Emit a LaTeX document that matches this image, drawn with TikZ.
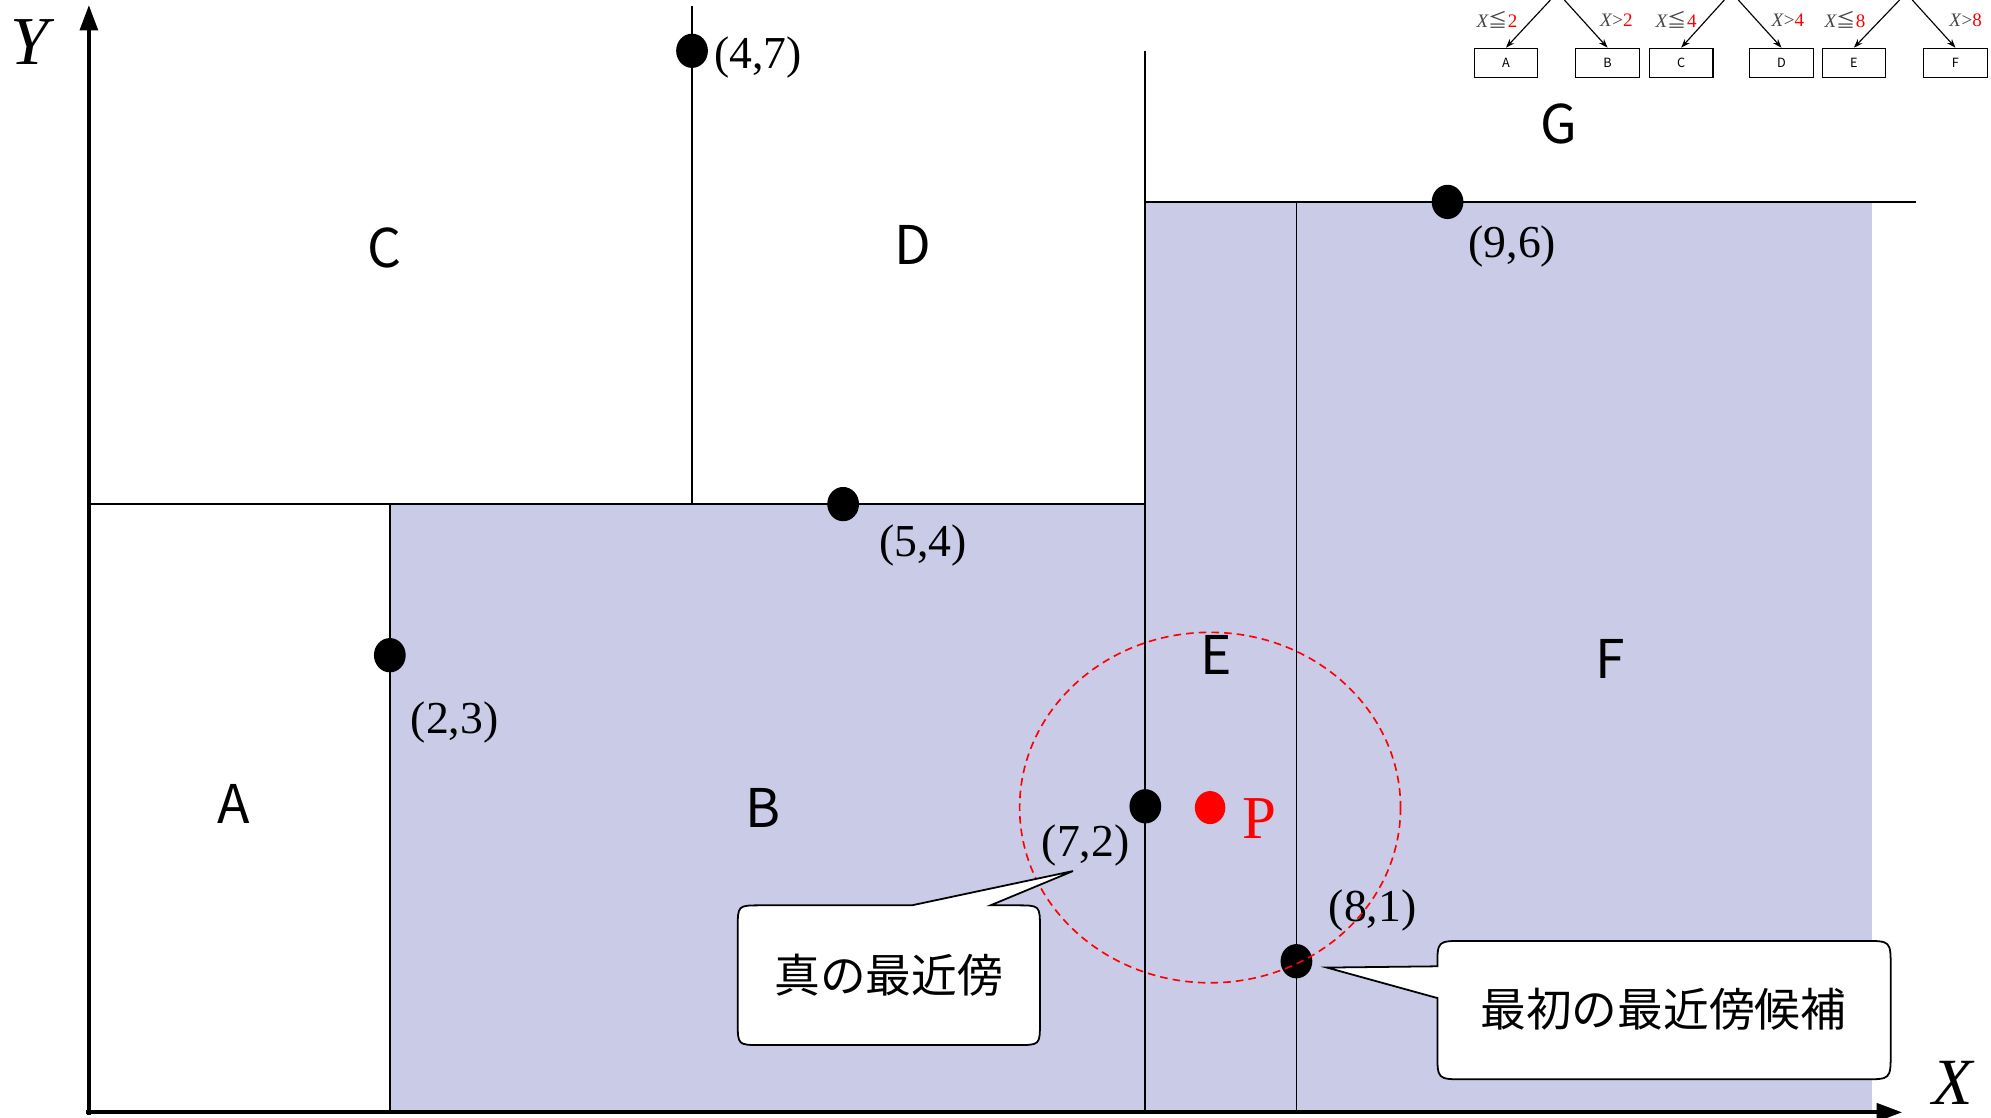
\documentclass[tikz,border=0pt]{standalone}
\usepackage{fontspec}
\setmainfont{Liberation Serif}
\newfontfamily\jp{Noto Sans CJK JP}
\usetikzlibrary{arrows.meta,shapes.geometric}
\definecolor{lav}{RGB}{201,203,231}
\definecolor{tgray}{RGB}{70,70,70}
\begin{document}
\begin{tikzpicture}[x=1pt,y=-1pt,
  axis/.style={line width=3pt,-{Triangle[length=20pt,width=14pt]}},
  part/.style={line width=1.4pt},
  dot/.style={ellipse,fill=black,inner sep=0pt,minimum width=25pt,minimum height=27pt},
  coordlbl/.style={font=\fontsize{36}{36}\selectfont,inner sep=0pt},
  region/.style={font=\jp\fontsize{42}{42}\selectfont,inner sep=0pt},
  callout/.style={draw=black,line width=1.4pt,fill=white},
  calltext/.style={font=\jp\fontsize{36}{36}\selectfont,inner sep=0pt},
  leaf/.style={draw=black,line width=0.9pt,minimum width=50pt,minimum height=23pt,inner sep=0pt,font=\jp\fontsize{10}{10}\selectfont},
  tarrow/.style={line width=0.9pt,-{Stealth[length=7pt,width=5pt]}},
  tlbl/.style={inner sep=0pt,font=\fontsize{15}{15}\selectfont}]
\useasboundingbox (0,0) rectangle (1568,880);
% shaded regions
\fill[lav] (307,397) rectangle (902,876);
\fill[lav] (902,159) rectangle (1474,876);
% partition lines
\draw[part,line width=1.8pt] (70,397) -- (902,397);
\draw[part] (307,397) -- (307,876);
\draw[part] (545,5) -- (545,397);
\draw[part] (902,40) -- (902,876);
\draw[part,line width=1.8pt] (902,159) -- (1509,159);
\draw[part] (1021,159) -- (1021,876);
% axes
\coordinate (o) at (70,876);
\coordinate (ytip) at (70,4);
\coordinate (xtip) at (1498,876);
\draw[axis] (70,878) -- (ytip);
\draw[axis] (68,876) -- (xtip);
\node[inner sep=0pt,font=\itshape\fontsize{54}{54}\selectfont] (ylab) at (23,33) {Y};
\node[inner sep=0pt,font=\itshape\fontsize{52}{52}\selectfont] (xlab) at (1538,853) {X};
% region labels
\node[region] (rA) at (184,633) {A};
\node[region] (rB) at (601,636) {B};
\node[region] (rC) at (303,195) {C};
\node[region] (rD) at (719,193) {D};
\node[region] (rE) at (958,516) {E};
\node[region] (rF) at (1268,519) {F};
\node[region] (rG) at (1228,98) {G};
% points
\node[dot] (p47) at (545,40) {};
\node[dot] (p54) at (664,397) {};
\node[dot] (p23) at (307,516) {};
\node[dot] (p96) at (1140,159) {};
\node[dot] (p72) at (902,635) {};
\node[dot] (p81) at (1021,757) {};
\node[ellipse,fill=red,inner sep=0pt,minimum width=24pt,minimum height=26pt] (pP) at (953,636) {};
\node[coordlbl] (l47) at (597,45) {(4,7)};
\node[coordlbl] (l54) at (727,430) {(5,4)};
\node[coordlbl] (l23) at (358,569) {(2,3)};
\node[coordlbl] (l96) at (1191,194) {(9,6)};
\node[coordlbl] (l72) at (855,666) {(7,2)};
\node[coordlbl] (l81) at (1081,717) {(8,1)};
\node[inner sep=0pt,text=red,font=\fontsize{48}{48}\selectfont] (lP) at (992,645) {P};
% search circle
\draw[red,line width=1.3pt,dash pattern=on 6pt off 4pt] (pP.center) ellipse [x radius=150, y radius=138];
% callout 1
\coordinate (c1tip) at (845,686);
\draw[callout] (718,713) -- (c1tip) -- (780,713) -- (801,713) .. controls (819,713) .. (819,731) -- (819,805) .. controls (819,823) .. (801,823) -- (599,823) .. controls (581,823) .. (581,805) -- (581,731) .. controls (581,713) .. (599,713) -- cycle;
\node[calltext] (t1) at (700,768) {真の最近傍};
% callout 2
\coordinate (c2tip) at (1045,762);
\draw[callout] (1132,761) -- (c2tip) -- (1132,786) -- (1132,829) .. controls (1132,850) .. (1153,850) -- (1468,850) .. controls (1489,850) .. (1489,829) -- (1489,762) .. controls (1489,741) .. (1468,741) -- (1153,741) .. controls (1132,741) .. (1132,761) -- cycle;
\node[calltext] (t2) at (1310,795) {最初の最近傍候補};
% tree fragment
\node[leaf] (tA) at (1186,49.5) {A};
\node[leaf] (tB) at (1266,49.5) {B};
\node[leaf] (tC) at (1324,49.5) {C};
\node[leaf] (tD) at (1403,49.5) {D};
\node[leaf] (tE) at (1460,49.5) {E};
\node[leaf] (tF) at (1540,49.5) {F};
\coordinate (sA) at (1221,0);
\coordinate (sB) at (1232,0);
\coordinate (sC) at (1358,0);
\coordinate (sD) at (1369,0);
\coordinate (sE) at (1496,0);
\coordinate (sF) at (1506,0);
\draw[tarrow] (sA) -- (tA.north);
\draw[tarrow] (sB) -- (tB.north);
\draw[tarrow] (sC) -- (tC.north);
\draw[tarrow] (sD) -- (tD.north);
\draw[tarrow] (sE) -- (tE.north);
\draw[tarrow] (sF) -- (tF.north);
\node[tlbl] (lA) at (1179,16) {\textcolor{tgray}{\textit{X}{\jp ≦}}\textcolor{red}{2}};
\node[tlbl] (lB) at (1273,16) {\textcolor{tgray}{\textit{X}>}\textcolor{red}{2}};
\node[tlbl] (lC) at (1320,16) {\textcolor{tgray}{\textit{X}{\jp ≦}}\textcolor{red}{4}};
\node[tlbl] (lD) at (1408,16) {\textcolor{tgray}{\textit{X}>}\textcolor{red}{4}};
\node[tlbl] (lE) at (1453,16) {\textcolor{tgray}{\textit{X}{\jp ≦}}\textcolor{red}{8}};
\node[tlbl] (lF) at (1548,16) {\textcolor{tgray}{\textit{X}>}\textcolor{red}{8}};
\end{tikzpicture}
\end{document}
